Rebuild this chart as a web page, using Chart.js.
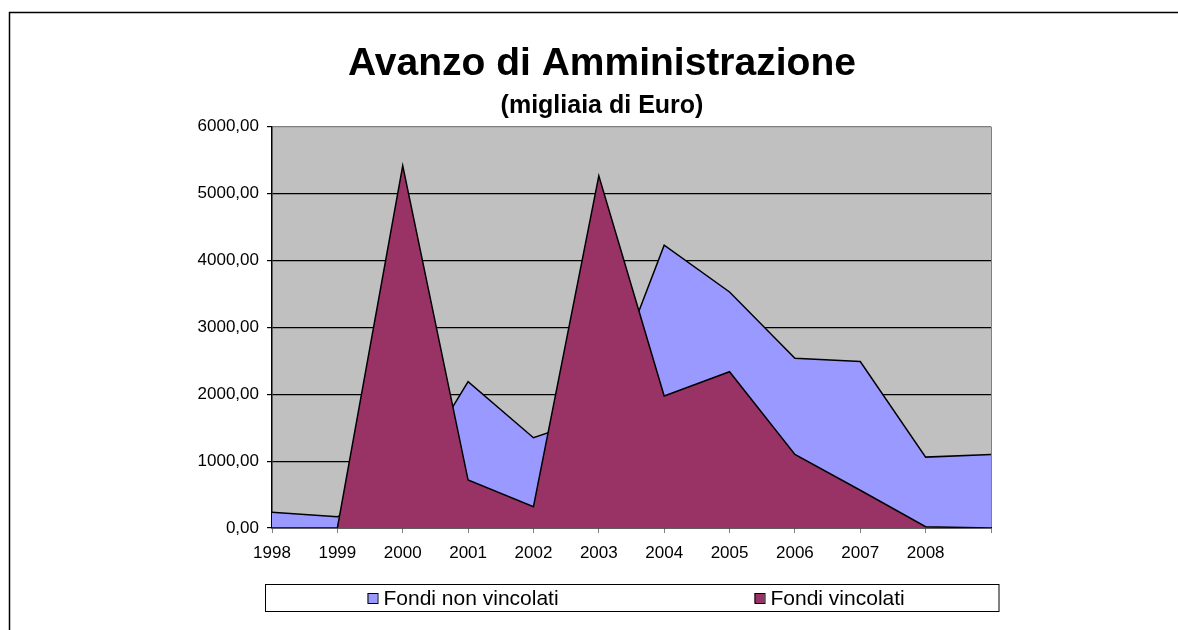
<!DOCTYPE html>
<html>
<head>
<meta charset="utf-8">
<script src="https://cdn.jsdelivr.net/npm/chart.js@4.4.0/dist/chart.umd.min.js"></script>
<style>
  body { margin: 0; background: #fff; }
  #wrap { width: 1178px; height: 630px; }
</style>
</head>
<body>
<div id="wrap"><canvas id="avanzo-chart" width="1178" height="630"></canvas></div>
<script>
// dati (migliaia di Euro)
const anni = ['1998', '1999', '2000', '2001', '2002', '2003', '2004', '2005', '2006', '2007', '2008', ''];
const fondiNonVincolati = [235, 170, 580, 2190, 1350, 1680, 4230, 3530, 2540, 2490, 1060, 1100];
const fondiVincolati = [0, 0, 5420, 717, 319, 5267, 1973, 2337, 1101, 565, 20, 0];
const yTicks = [0, 1000, 2000, 3000, 4000, 5000, 6000];

const FONT = "'Liberation Sans', Arial, sans-serif";

// sfondo, cornice e area grigia del grafico
const backgroundPlugin = {
  id: 'sfondo',
  beforeDraw(chart) {
    const { ctx, chartArea } = chart;
    ctx.save();
    ctx.fillStyle = '#ffffff';
    ctx.fillRect(0, 0, chart.width, chart.height);
    ctx.fillStyle = '#c0c0c0';
    ctx.fillRect(chartArea.left, chartArea.top, chartArea.right - chartArea.left, chartArea.bottom - chartArea.top);
    // cornice esterna
    ctx.strokeStyle = '#000';
    ctx.lineWidth = 1.5;
    ctx.beginPath();
    ctx.moveTo(9.5, chart.height);
    ctx.lineTo(9.5, 12.5);
    ctx.lineTo(chart.width, 12.5);
    ctx.stroke();
    ctx.restore();
  }
};

// legenda con riquadro, come in Excel
const legendPlugin = {
  id: 'legendaBox',
  afterDraw(chart) {
    const { ctx, chartArea } = chart;
    const left = chartArea.left - 6.5, right = chartArea.right + 8;
    const top = chartArea.bottom + 56.5, h = 27;
    ctx.save();
    ctx.fillStyle = '#fff';
    ctx.strokeStyle = '#000';
    ctx.lineWidth = 1;
    ctx.fillRect(left, top, right - left, h);
    ctx.strokeRect(left, top, right - left, h);
    const offsets = [102, 489];
    ctx.font = '21px ' + FONT;
    ctx.textBaseline = 'middle';
    chart.data.datasets.forEach((ds, i) => {
      const x = left + offsets[i];
      const cy = top + h / 2;
      ctx.fillStyle = ds.backgroundColor;
      ctx.fillRect(x, cy - 5, 10, 10);
      ctx.strokeRect(x + 0.5, cy - 4.5, 10, 10);
      ctx.fillStyle = '#000';
      ctx.fillText(ds.label, x + 16, cy + 1);
    });
    ctx.restore();
  }
};

const ctx = document.getElementById('avanzo-chart').getContext('2d');
const avanzoChart = new Chart(ctx, {
  type: 'line',
  data: {
    labels: anni,
    datasets: [
      {
        label: 'Fondi non vincolati',
        data: fondiNonVincolati,
        backgroundColor: '#9999ff',
        borderColor: '#000',
        borderWidth: 1.5,
        fill: 'origin',
        tension: 0,
        pointRadius: 0,
        order: 1
      },
      {
        label: 'Fondi vincolati',
        data: fondiVincolati,
        backgroundColor: '#993366',
        borderColor: '#000',
        borderWidth: 1.5,
        fill: 'origin',
        tension: 0,
        pointRadius: 0,
        order: 0
      }
    ]
  },
  options: {
    responsive: false,
    animation: false,
    layout: {
      padding: { left: 193, right: 167, top: 12, bottom: 72 }
    },
    plugins: {
      legend: { display: false },
      tooltip: { enabled: false },
      title: {
        display: true,
        text: 'Avanzo di Amministrazione',
        color: '#000',
        font: { family: FONT, size: 39, weight: 'bold' },
        padding: { top: 29, bottom: 0 }
      },
      subtitle: {
        display: true,
        text: '(migliaia di Euro)',
        color: '#000',
        font: { family: FONT, size: 25, weight: 'bold' },
        padding: { top: 3, bottom: 6 }
      }
    },
    scales: {
      x: {
        offset: false,
        grid: {
          drawOnChartArea: true,
          color: (c) => (c.index === anni.length - 1 ? '#808080' : 'rgba(0,0,0,0)'),
          tickColor: '#808080',
          tickLength: 5
        },
        border: { color: '#000', width: 1.5 },
        ticks: {
          color: '#000',
          font: { family: FONT, size: 17 },
          padding: 10,
          maxRotation: 0,
          autoSkip: false
        },
        afterFit: (scale) => { scale.height = 30; }
      },
      y: {
        min: 0,
        max: 6000,
        afterBuildTicks: (scale) => { scale.ticks = yTicks.map(v => ({ value: v })); },
        grid: {
          color: (c) => (c.tick && c.tick.value === 6000 ? '#808080' : '#000'),
          tickColor: '#000',
          tickLength: 5,
          lineWidth: 1.2
        },
        border: { color: '#000', width: 1.5 },
        ticks: {
          color: '#000',
          font: { family: FONT, size: 17 },
          padding: 8,
          callback: (v) => Number(v).toFixed(2).replace('.', ',')
        },
        afterFit: (scale) => { scale.width = 79; }
      },
      // margine destro vuoto (per centrare il titolo come nell'originale)
      margineDx: {
        position: 'right',
        min: 0,
        max: 6000,
        grid: { display: false },
        border: { display: false },
        ticks: { display: false },
        afterFit: (scale) => { scale.width = 20; }
      }
    }
  },
  plugins: [backgroundPlugin, legendPlugin]
});
</script>
</body>
</html>
